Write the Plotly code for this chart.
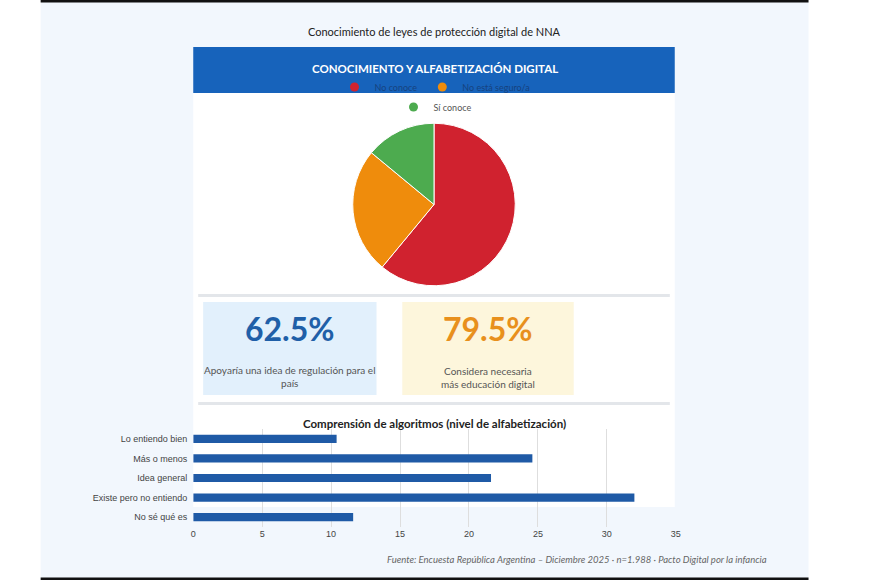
import plotly.graph_objects as go

W, H = 870, 580

# ---------------- data ----------------
pie_labels = ["No conoce", "No está seguro/a", "Sí conoce"]
pie_values = [61, 25, 14]
pie_colors = ["#d0222f", "#ef8c0c", "#4dab4f"]

bar_categories = ["Lo entiendo bien", "Más o menos", "Idea general",
                  "Existe pero no entiendo", "No sé qué es"]
bar_values = [10.4, 24.6, 21.6, 32.0, 11.6]
x_ticks = [0, 5, 10, 15, 20, 25, 30, 35]

kpi_values = ["62.5%", "79.5%"]
kpi_texts = ["Apoyaría una idea de regulación para el<br>país",
             "Considera necesaria<br>más educación digital"]
kpi_colors = ["#1f5fa8", "#e8901c"]

main_title = "Conocimiento de leyes de protección digital de NNA"
band_title = "CONOCIMIENTO Y ALFABETIZACIÓN DIGITAL"
bar_title = "Comprensión de algoritmos (nivel de alfabetización)"
footer = "Fuente: Encuesta República Argentina – Diciembre 2025 · n=1.988 · Pacto Digital por la infancia"


def X(px):
    return px / W


def Y(py):
    return 1 - py / H


FONT = "Lato, 'Open Sans', sans-serif"
NARROW = "'Liberation Sans Narrow', 'Arial Narrow', 'Liberation Sans', sans-serif"

fig = go.Figure()

# bars
fig.add_trace(go.Bar(
    x=bar_values, y=bar_categories, orientation="h",
    marker=dict(color="#1f5aa6", line=dict(width=0)),
    showlegend=False, hovertemplate="%{y}: %{x}<extra></extra>",
))

# pie
fig.add_trace(go.Pie(
    labels=pie_labels, values=pie_values, sort=False, direction="clockwise",
    rotation=0, marker=dict(colors=pie_colors, line=dict(color="#ffffff", width=1)),
    textinfo="none", hoverinfo="label+percent", showlegend=False,
    domain=dict(x=[X(353), X(517)], y=[Y(286), Y(123)]),
))

# legend entries for pie slices (two centered rows)
for i, (lab, col) in enumerate(zip(pie_labels, pie_colors)):
    fig.add_trace(go.Scatter(
        x=[None], y=[None], mode="markers", name=lab,
        marker=dict(color=col, size=9),
        legend="legend" if i < 2 else "legend2", showlegend=True,
        hoverinfo="skip",
    ))

shapes = []


def rect(x0, y0, x1, y1, color):
    shapes.append(dict(type="rect", xref="paper", yref="paper",
                       x0=X(x0), x1=X(x1), y0=Y(y1), y1=Y(y0),
                       fillcolor=color, line=dict(width=0), layer="below"))


rect(38, 0, 813, 580, "#f2f7fd")
rect(38, 0, 813, 2.5, "#111111")
rect(38, 577.5, 813, 580, "#111111")
rect(192, 47, 678, 507, "#ffffff")
rect(192, 47, 678, 93, "#1763bb")
rect(197, 294, 673, 297, "#e3e6ea")
rect(197, 402, 673, 405, "#e3e6ea")
rect(202, 302, 377, 395, "#e2f0fc")
rect(403, 302, 576, 395, "#fdf6dc")

annotations = [
    dict(text=main_title, x=X(436), y=Y(31), font=dict(family=FONT, size=11, color="#222222")),
    dict(text="<b>" + band_title + "</b>", x=X(436), y=Y(68), font=dict(family=FONT, size=11.5, color="#ffffff")),
    dict(text="<b>" + kpi_values[0] + "</b>", x=X(289.5), y=Y(328), font=dict(family=FONT, size=32, color=kpi_colors[0])),
    dict(text="<b>" + kpi_values[1] + "</b>", x=X(489), y=Y(328), font=dict(family=FONT, size=32, color=kpi_colors[1])),
    dict(text=kpi_texts[0], x=X(289.5), y=Y(376.5), font=dict(family=FONT, size=10, color="#555555")),
    dict(text=kpi_texts[1], x=X(489), y=Y(377), font=dict(family=FONT, size=10, color="#555555")),
    dict(text="<b>" + bar_title + "</b>", x=X(436), y=Y(423), font=dict(family=FONT, size=11.5, color="#222222")),
    dict(text="<i>" + footer + "</i>", x=X(773), y=Y(559), xanchor="right",
         font=dict(family=FONT, size=9.5, color="#666666")),
]
for a in annotations:
    a.setdefault("xanchor", "center")
    a.update(xref="paper", yref="paper", yanchor="middle", showarrow=False, align="center")

fig.update_layout(
    width=W, height=H, margin=dict(l=0, r=0, t=0, b=0),
    paper_bgcolor="#ffffff", plot_bgcolor="rgba(0,0,0,0)",
    shapes=shapes, annotations=annotations,
    bargap=0.58,
    xaxis=dict(domain=[X(192), X(679)], range=[0, 35], tickvals=x_ticks,
               showgrid=True, gridcolor="#dedede", gridwidth=1, zeroline=False,
               showline=False, ticks="", tickfont=dict(family=NARROW, size=9, color="#444444"),
               anchor="y", fixedrange=True),
    yaxis=dict(type="category", domain=[Y(527), Y(429)], categoryorder="array",
               categoryarray=bar_categories,
               autorange="reversed", showgrid=False, zeroline=False, showline=False,
               ticks="", ticklabelstandoff=5,
               tickfont=dict(family=NARROW, size=9, color="#444444"), anchor="x", fixedrange=True),
    legend=dict(orientation="h", x=X(436), xanchor="center", y=Y(87), yanchor="middle",
                font=dict(family=FONT, size=9, color="#16427e"), bgcolor="rgba(0,0,0,0)",
                itemwidth=30, itemclick=False, itemdoubleclick=False),
    legend2=dict(orientation="h", x=X(436), xanchor="center", y=Y(107), yanchor="middle",
                 font=dict(family=FONT, size=9, color="#555555"), bgcolor="rgba(0,0,0,0)",
                 itemwidth=30, itemclick=False, itemdoubleclick=False),
)

fig.write_html("out.html")
